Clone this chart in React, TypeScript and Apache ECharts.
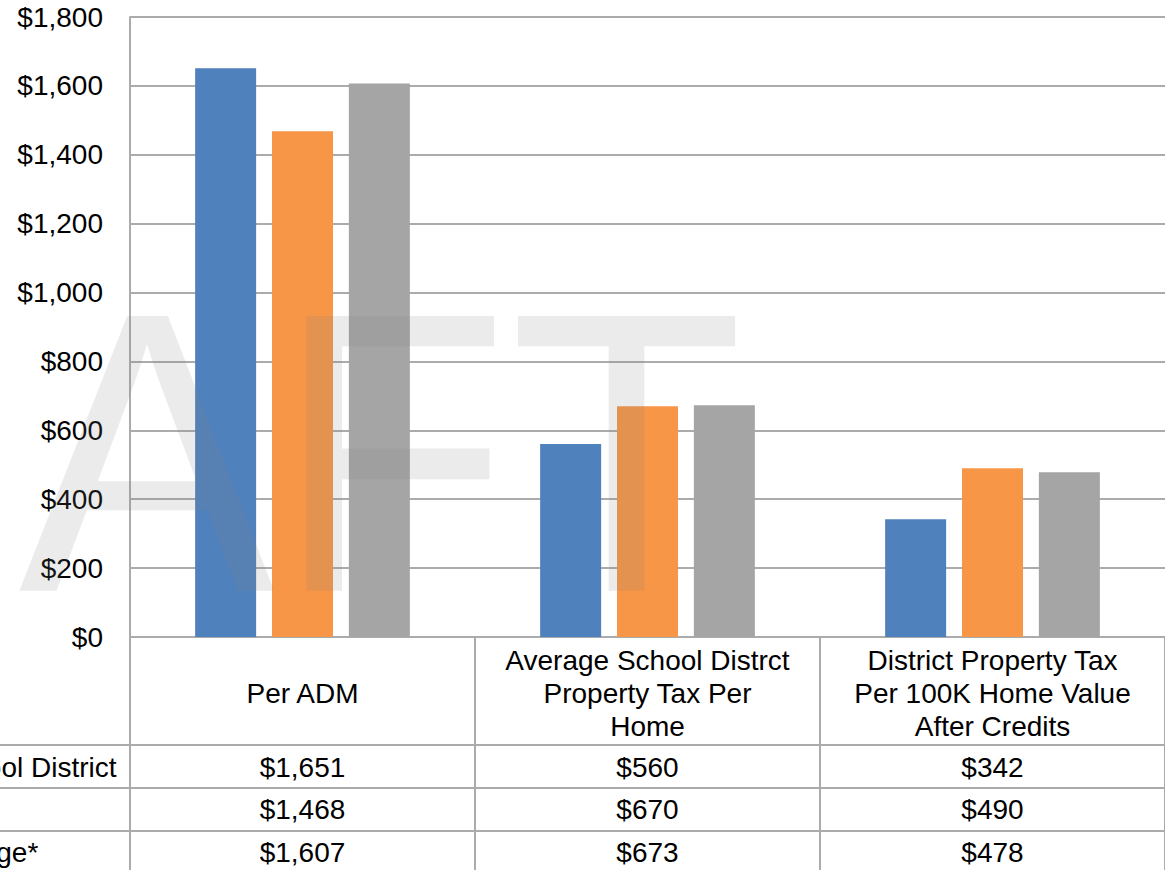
import React, { useEffect, useRef } from 'react';
import * as echarts from 'echarts';

const categories = [
  'Per ADM',
  'Average School Distrct\nProperty Tax Per\nHome',
  'District Property Tax\nPer 100K Home Value\nAfter Credits',
];
const seriesNames = ['Target School District', 'Peer Group', 'State Average*'];
const districtValues = [1651, 560, 342];
const peerValues = [1468, 670, 490];
const stateValues = [1607, 673, 478];
const seriesColors = ['#4f81bd', '#f79646', '#a5a5a5'];
const watermarkText = 'DRAFT';

const FONT = 'Liberation Sans, Arial, sans-serif';
const GRID_COLOR = '#ababab';

const fmt = (v: number) => '$' + v.toLocaleString('en-US');

export default function App() {
  const ref = useRef<HTMLDivElement>(null);
  useEffect(() => {
    if (!ref.current) return;
    const chart = echarts.init(ref.current, undefined, { renderer: 'svg' });
    const allValues = [districtValues, peerValues, stateValues];
    const option: any = {
      animation: false,
      backgroundColor: '#ffffff',
      grid: { left: 130, top: 17, right: -2, bottom: 233 },
      xAxis: {
        type: 'category',
        data: categories,
        axisLine: { show: true, lineStyle: { color: GRID_COLOR, width: 2 } },
        axisTick: { show: true, length: 233, lineStyle: { color: GRID_COLOR, width: 2 } },
        axisLabel: {
          interval: 0,
          margin: 56,
          verticalAlign: 'middle',
          lineHeight: 33,
          fontSize: 28,
          fontFamily: FONT,
          color: '#000',
        },
      },
      yAxis: {
        type: 'value',
        min: 0,
        max: 1800,
        interval: 200,
        axisLine: { show: true, lineStyle: { color: GRID_COLOR, width: 2 } },
        axisTick: { show: false },
        splitLine: { lineStyle: { color: GRID_COLOR, width: 2 } },
        axisLabel: {
          margin: 27,
          fontSize: 28,
          fontFamily: FONT,
          color: '#000',
          formatter: (v: number) => fmt(v),
        },
      },
      series: allValues.map((vals, i) => ({
        type: 'bar',
        name: seriesNames[i],
        data: vals,
        barWidth: 61,
        barGap: '26%',
        itemStyle: { color: seriesColors[i] },
      })),
    };
    chart.setOption(option);

    const xs = categories.map((_, i) => chart.convertToPixel({ xAxisIndex: 0 }, i) as number);
    const rowCenters = [767, 809.5, 852];
    const rowLines = [745, 788, 831];
    const graphics: any[] = [];
    rowLines.forEach((y) => {
      graphics.push({
        type: 'line',
        shape: { x1: 0, y1: y, x2: 1165, y2: y },
        style: { stroke: GRID_COLOR, lineWidth: 2 },
        z: 5,
      });
    });
    allValues.forEach((vals, r) => {
      graphics.push({
        type: 'text',
        style: {
          text: seriesNames[r],
          x: -148,
          y: rowCenters[r],
          align: 'left',
          verticalAlign: 'middle',
          font: `28px ${FONT}`,
          fill: '#000',
        },
        z: 6,
      });
      vals.forEach((v, c) => {
        graphics.push({
          type: 'text',
          style: {
            text: fmt(v),
            x: xs[c],
            y: rowCenters[r],
            align: 'center',
            verticalAlign: 'middle',
            font: `28px ${FONT}`,
            fill: '#000',
          },
          z: 6,
        });
      });
    });
    graphics.push({
      type: 'text',
      silent: true,
      x: 0,
      y: 452,
      scaleY: 1.04,
      style: {
        text: watermarkText,
        x: -536,
        y: 0,
        align: 'left',
        verticalAlign: 'middle',
        font: `384px ${FONT}`,
        fill: 'rgba(128,128,128,0.16)',
      },
      z: 100,
    });
    chart.setOption({ graphic: graphics });

    return () => chart.dispose();
  }, []);
  return (
    <div
      ref={ref}
      style={{ position: 'fixed', left: 0, top: 0, width: 1165, height: 870 }}
    />
  );
}
